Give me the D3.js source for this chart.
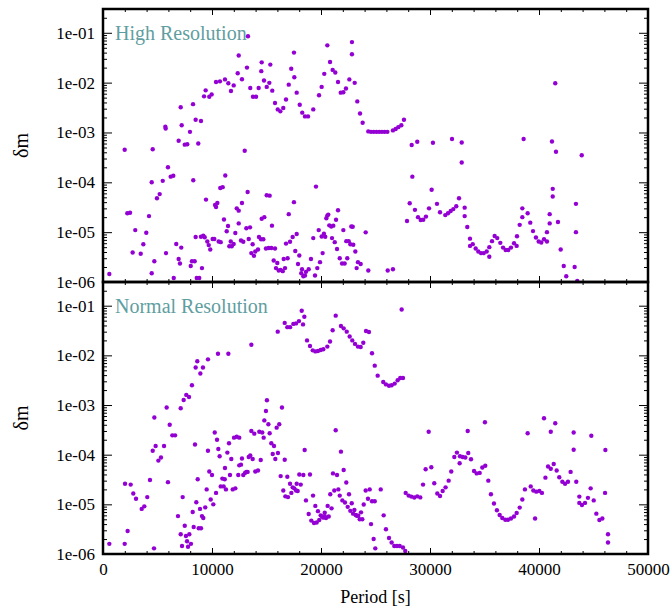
<!DOCTYPE html>
<html>
<head>
<meta charset="utf-8">
<script src="https://cdn.jsdelivr.net/npm/d3@7"></script>
<style>
  body { margin: 0; background: #fff; }
  svg text { font-family: "Liberation Serif", "DejaVu Serif", serif; }
</style>
</head>
<body>
<div class="js-chart"></div>
<script>
'use strict';

// [period (s), delta m]
const highRes = [
  [580,1.45e-6],[1990,4.5e-4],[2230,2.4e-5],[2480,2.45e-5],[2720,3.9e-6],[2960,1.1e-5],[3460,3.7e-6],[3700,5.7e-6],
  [3970,9.7e-6],[4220,2.1e-5],[4470,1.0e-4],[4470,1.5e-6],[4560,4.6e-4],[4710,2.6e-6],[4950,4.8e-5],[5200,5.8e-5],
  [5480,1.07e-4],[5720,1.3e-3],[5750,1.2e-3],[5780,3.8e-6],[5960,2.0e-4],[6210,1.3e-4],[6450,1.35e-4],[6490,1.2e-6],
  [6720,5.8e-6],[6940,6.8e-4],[6940,2.9e-6],[7060,2.35e-6],[7130,3.2e-3],[7220,1.4e-3],[7180,4.9e-6],[7500,5.7e-4],
  [7730,5.8e-4],[7980,1.03e-3],[8050,2.1e-6],[8160,2.6e-6],[8280,1.1e-4],[8260,3.7e-3],[8410,2.6e-6],[8500,1.8e-3],
  [8500,8.0e-6],[8600,1.2e-6],[8830,1.2e-6],[8740,6.0e-4],[8990,1.7e-3],[8990,8.1e-6],[9080,1.9e-6],[9200,8.5e-6],
  [9330,7.9e-6],[9420,7.0e-3],[9270,5.3e-3],[9450,4.5e-5],[9570,6.5e-6],[9700,5.5e-6],[9750,5.2e-3],[9840,4.5e-6],
  [9970,5.8e-3],[10060,7.3e-6],[10210,7.3e-6],[10280,3.5e-5],[10370,3.2e-5],[10370,1.03e-2],[10490,3.85e-5],[10610,6.5e-6],
  [10730,1.06e-2],[10760,7.7e-5],[10800,6.3e-6],[10980,8.0e-5],[11100,1.8e-5],[11190,1.16e-2],[11220,1.37e-4],[11350,1.04e-5],
  [11470,1.33e-5],[11500,9.7e-3],[11590,5.2e-6],[11720,6.5e-6],[11740,6.8e-3],[11810,5.2e-6],[11990,8.8e-3],[11990,5.8e-6],
  [12140,9.6e-6],[12270,3.0e-5],[12360,1.54e-2],[12450,3.5e-2],[12450,2.7e-5],[12450,1.5e-5],
  [13300,8.5e-2],[12750,1.17e-2],[13210,2.0e-2],[13510,7.8e-3],[13760,5.2e-3],[14040,5.2e-3],[14280,7.8e-3],[14560,2.55e-2],
  [14520,1.7e-2],[14770,1.1e-2],[15020,8.2e-3],[15260,9.9e-3],[15350,2.3e-2],[15530,6.9e-3],[15780,3.9e-3],[16030,2.9e-3],
  [16270,2.65e-3],[16540,3.1e-3],[16790,4.6e-3],[17040,9.1e-3],[17270,1.9e-2],[17520,4.0e-2],[17550,1.28e-2],[17770,6.3e-3],
  [18050,3.6e-3],[18280,2.5e-3],[18530,2.1e-3],[18810,2.1e-3],[19290,2.9e-3],[19820,5.6e-3],[20060,8.2e-3],[20300,1.5e-2],
  [20580,5.6e-2],[20830,2.6e-2],[21070,1.8e-2],[21310,1.6e-2],[21560,1.03e-2],[21810,6.3e-3],[22050,6.4e-3],[22290,7.6e-3],
  [22600,1.16e-2],[22840,6.5e-2],[22840,3.7e-2],[23090,9.9e-3],[23330,4.2e-3],[23580,2.4e-3],[23820,1.57e-3],[13000,4.3e-4],
  [19540,8.2e-5],
  [24340,1.05e-3],[24590,1.03e-3],[24840,1.03e-3],[25090,1.03e-3],[25340,1.03e-3],[25590,1.03e-3],[25840,1.03e-3],[26090,1.03e-3],
  [26600,1.1e-3],[26850,1.17e-3],[27090,1.28e-3],[27370,1.4e-3],[27610,1.8e-3],
  [13270,6.4e-5],[12750,3.85e-5],[13150,1.2e-5],[13490,1.25e-5],[13370,7.3e-6],[12660,6.8e-6],[12870,6.4e-6],[13730,5.7e-6],
  [13610,3.8e-6],[13850,3.35e-6],[13970,4.1e-6],[14220,4.5e-6],[14310,8.0e-6],[14500,7.2e-6],[14710,7.2e-6],[14560,1.86e-5],
  [14800,2.0e-5],[15020,5.5e-5],[15290,5.4e-5],[15500,1.35e-5],[14950,4.7e-6],[15200,4.8e-6],[15440,4.8e-6],[15780,4.7e-6],
  [15660,2.7e-6],[15990,2.4e-6],[15870,1.9e-6],[16120,1.7e-6],[16300,1.75e-6],[16490,1.65e-6],[16700,1.9e-6],[16580,2.9e-6],
  [16940,3.0e-6],[16790,5.9e-6],[17160,6.4e-6],[17400,8.0e-6],[17520,4.0e-5],[17040,2.3e-5],[17770,9.2e-6],[17640,4.2e-6],
  [18010,3.4e-6],[17890,2.3e-6],[18260,1.8e-6],[18190,1.5e-6],[18380,1.3e-6],[18530,1.35e-6],[18620,1.6e-6],[18870,1.8e-6],
  [19080,2.9e-6],[19290,7.6e-6],[19450,1.35e-6],[19660,1.9e-6],[19790,1.1e-5],[19910,2.5e-6],[20060,8.2e-6],[20150,3.8e-6],
  [20270,9.3e-6],[20390,8.1e-6],[20490,1.9e-5],[20580,2.15e-5],[20670,2.25e-5],[20760,1.37e-5],[20940,1.3e-5],[21130,1.35e-5],
  [21010,7.6e-6],[21260,6.3e-6],[21380,1.77e-5],[21560,2.75e-5],[21470,4.6e-6],[21720,3.0e-6],[21930,2.35e-6],[22170,2.35e-6],
  [22050,1.1e-5],[22320,6.6e-6],[22540,6.6e-6],[22410,3.0e-6],[22690,5.7e-6],[22960,5.6e-6],[22780,1.3e-5],[22910,1.28e-5],
  [23150,4.1e-6],[23270,1.9e-6],[23390,2.5e-6],[23640,2.3e-6],[24100,9.9e-6],[24340,1.7e-6],
  [26120,1.7e-6],[26600,1.8e-6],[27890,1.67e-5],[28140,3.8e-5],[28320,5.6e-4],[28380,1.3e-4],[28620,2.8e-5],[28830,6.5e-4],
  [28900,2.0e-5],[29150,1.75e-5],[29380,1.77e-5],[29630,2.05e-5],[29910,3.0e-5],[30150,7.1e-5],[30270,6.2e-4],[30640,3.7e-5],
  [30920,2.5e-5],[31400,2.2e-5],[31650,2.4e-5],[31900,2.65e-5],[32140,2.9e-5],[32410,3.3e-5],[32020,7.4e-4],[32660,4.8e-5],
  [32910,6.3e-4],[32910,2.5e-4],[33180,3.1e-5],[33180,2.1e-5],[33420,1.27e-5],[33670,7.4e-6],[33670,5.3e-6],[33920,5.75e-6],
  [34190,4.7e-6],[34430,4.1e-6],[34680,3.8e-6],[34930,3.8e-6],[35200,4.1e-6],[35440,3.2e-6],[35440,5.0e-6],[35690,6.6e-6],
  [35930,8.4e-6],[36170,7.6e-6],[36450,6.1e-6],[36700,4.9e-6],[36940,4.4e-6],[37180,4.4e-6],[37430,4.9e-6],[37710,6.0e-6],
  [37950,5.3e-6],[37980,8.3e-6],[38230,1.4e-5],[38470,2.0e-5],[38470,3.0e-5],[38590,7.4e-4],[38960,2.4e-5],[39200,1.55e-5],
  [39450,1.05e-5],[39720,7.8e-6],[39970,6.5e-6],[40210,6.2e-6],[40460,7.2e-6],[40730,6.5e-6],[40730,1.0e-5],[40980,1.5e-5],
  [40980,2.3e-5],[41190,6.6e-4],[41260,7.4e-5],[41260,5.2e-5],[41490,9.7e-3],[41560,4.1e-4],[41740,1.6e-5],[41990,4.5e-6],
  [42270,2.1e-6],[42500,1.3e-6],[43270,2.0e-6],[43390,3.7e-5],[43390,1.0e-5],[43510,1.05e-6],[43920,3.5e-4]
];

const normalRes = [
  [580,1.6e-6],[1990,1.6e-6],[2020,2.6e-5],[2260,2.9e-6],[2540,2.5e-5],[2780,1.65e-5],[3030,1.3e-5],[3550,8.1e-6],
  [3790,9.1e-6],[4060,1.4e-5],[4310,3.1e-5],[4680,1.3e-6],[4560,1.2e-4],[4710,5.6e-4],[4830,1.5e-4],[5080,7.6e-5],
  [5320,8.8e-5],[5600,1.5e-4],[5840,8.9e-4],[5960,2.8e-5],[6120,4.0e-4],[6360,2.45e-4],[6610,2.45e-4],[6880,5.8e-6],
  [7130,8.6e-4],[7310,1.4e-5],[7130,2.5e-6],[7250,1.45e-6],[7400,1.26e-3],[7500,3.7e-6],[7610,2.3e-6],[7710,1.8e-6],
  [7800,1.4e-6],[7920,2.5e-6],[8070,1.6e-6],[7640,1.6e-3],[7890,1.45e-3],[8160,2.5e-3],[8230,7.0e-6],[8320,3.5e-6],
  [8440,1.6e-4],[8500,5.7e-3],[8560,1.1e-5],[8650,7.6e-3],[8690,3.2e-5],[8780,3.3e-6],[8990,3.3e-6],[8900,8.1e-6],
  [8930,4.3e-3],[9170,5.7e-3],[9080,5.8e-6],[9200,5.3e-6],[9380,8.7e-6],[9510,2.0e-5],[9630,1.2e-4],[9630,8.3e-3],
  [9750,4.6e-5],[9880,1.25e-5],[10000,3.9e-5],[10120,1.0e-5],[10250,2.8e-4],[10370,1.7e-5],[10460,2.0e-4],[10550,1.08e-2],
  [10580,1.3e-4],[10700,9.3e-5],[10800,2.3e-5],[10950,3.3e-5],[11070,2.3e-5],[11170,3.2e-5],[11190,5.4e-5],[11280,2.0e-5],
  [11410,1.1e-4],[11500,1.08e-2],[11560,1.7e-4],[11650,3.9e-5],[11770,8.2e-5],[11900,2.0e-5],[12020,2.2e-4],[12270,2.3e-4],
  [12140,2.1e-5],[12410,3.9e-5],[12500,6.1e-5],
  [13610,1.64e-2],[16030,3.0e-2],[16670,4.5e-2],[16910,3.7e-2],[17160,3.7e-2],[17460,4.3e-2],[17710,4.4e-2],[17980,4.9e-2],
  [18230,7.9e-2],[18350,4.2e-2],[18470,6.0e-2],[18720,2.0e-2],[18990,1.54e-2],[19240,1.26e-2],[19480,1.2e-2],[19720,1.22e-2],
  [19970,1.28e-2],[20210,1.33e-2],[20580,1.5e-2],[20830,1.9e-2],[21070,3.2e-2],[21350,6.3e-2],[21830,3.9e-2],[22080,3.5e-2],
  [22360,3.0e-2],[22630,2.4e-2],[22870,2.0e-2],[23120,1.7e-2],[23390,1.5e-2],[23640,1.47e-2],[23880,1.8e-2],[24130,3.1e-2],
  [24400,2.95e-2],[24680,1.1e-2],[24930,6.2e-3],[25200,3.9e-3],[25710,2.9e-3],[25960,2.6e-3],[26240,2.45e-3],[26480,2.5e-3],
  [26760,2.7e-3],[27030,3.15e-3],[27270,3.5e-3],[27520,3.5e-3],[27400,8.4e-2],
  [12500,2.2e-4],[12660,6.3e-5],[12750,8.4e-5],[12870,3.9e-5],[13030,4.3e-5],[13150,4.5e-5],[13270,4.5e-5],[13370,9.0e-5],
  [13510,9.6e-5],[13610,3.0e-4],[13730,8.2e-5],[13880,2.65e-4],[13970,4.6e-5],[14220,4.8e-5],[14340,2.9e-4],[14610,2.8e-4],
  [14470,7.8e-5],[14740,2.2e-4],[14800,4.9e-4],[14950,7.6e-4],[15040,1.25e-3],[15170,4.1e-4],[15290,2.7e-4],[15440,1.7e-4],
  [15690,1.5e-4],[15570,1.03e-4],[15810,8.2e-5],[15930,3.5e-4],[16050,1.08e-4],[16170,4.1e-4],[16420,8.9e-4],[16300,3.7e-5],
  [16670,7.9e-5],[16540,1.9e-5],[16730,1.45e-5],[16970,1.4e-5],[16910,3.6e-5],[17160,2.6e-5],[17280,1.7e-5],[17400,2.2e-5],
  [17550,2.1e-5],[17710,1.9e-5],[17860,1.85e-5],[17770,2.6e-5],[18010,4.0e-5],[18380,3.9e-5],[18140,2.5e-5],[18500,1.24e-4],
  [18620,1.2e-5],[18870,6.4e-6],[18990,4.0e-5],[19110,4.7e-6],[19270,1.5e-5],[19360,4.2e-6],[19600,4.3e-6],[19480,9.3e-6],
  [19720,7.3e-6],[19840,4.85e-6],[19970,6.0e-6],[20090,5.7e-6],[20210,5.4e-6],[20340,5.8e-6],[20460,5.3e-6],[20340,6.8e-6],
  [20610,9.3e-6],[20710,5.7e-6],[20850,1.6e-5],[20970,8.3e-6],[21100,4.2e-5],[21220,1.9e-5],[21350,3.1e-4],[21470,3.9e-5],
  [21590,2.0e-5],[21720,1.5e-5],[21830,1.15e-4],[21960,1.2e-5],[22200,1.09e-5],[22080,4.9e-5],[22320,2.75e-5],[22450,8.9e-6],
  [22570,1.6e-5],[22690,7.4e-6],[22820,1.05e-5],[22940,6.5e-6],[23060,7.7e-6],[23180,6.1e-6],[23300,5.9e-6],[23420,5.9e-6],
  [23550,5.0e-6],[23790,5.0e-6],[23670,6.9e-6],[23920,9.9e-6],[24100,1.9e-5],[24310,1.3e-5],[24470,2.0e-5],[24590,4.0e-6],
  [24680,1.15e-5],[24930,1.15e-5],[24830,2.0e-6],[24980,1.3e-6],
  [25480,2.0e-5],[25750,6.0e-6],[25960,3.15e-6],[26240,2.1e-6],[26480,1.7e-6],[26720,1.45e-6],[26970,1.45e-6],[27220,1.45e-6],
  [27520,1.35e-6],[27730,1.15e-6],[27770,1.7e-5],[28040,1.5e-5],[28290,1.43e-5],[28560,1.37e-5],[28830,1.45e-5],[29110,1.38e-5],
  [29360,2.5e-5],[29600,5.1e-5],[29880,2.9e-4],[30120,5.6e-5],[30390,2.65e-5],[30670,1.65e-5],[30920,1.47e-5],[31160,1.85e-5],
  [31430,2.2e-5],[31710,3.0e-5],[31950,4.6e-5],[32230,9.0e-5],[32470,1.1e-4],[32720,6.7e-5],[32750,9.3e-5],[33000,9.0e-5],
  [33240,8.8e-5],[33460,3.0e-4],[33510,1.08e-4],[33760,8.1e-5],[34040,4.7e-5],[34280,4.2e-5],[34560,4.3e-5],[34800,5.5e-5],
  [35070,6.0e-5],[35040,4.5e-4],[35350,3.0e-5],[35590,1.6e-5],[35870,1.04e-5],[36140,7.6e-6],[36390,6.1e-6],[36630,5.3e-6],
  [36910,4.9e-6],[37150,4.9e-6],[37430,5.2e-6],
  [37710,5.7e-6],[37950,6.7e-6],[38230,8.6e-6],[38470,1.25e-5],[38710,2.0e-5],[38960,2.7e-4],[39240,2.3e-5],[39480,1.9e-5],
  [39640,5.2e-6],[39750,1.8e-5],[40030,1.85e-5],[40270,1.7e-5],[40460,5.4e-4],[40590,3.45e-5],[40830,5.8e-5],[41080,5.2e-5],
  [41080,2.9e-4],[41350,6.5e-5],[41490,4.3e-4],[41620,4.8e-5],[41860,3.5e-5],[42140,2.85e-5],[42390,2.6e-5],[42660,2.85e-5],
  [42900,4.5e-5],[43180,2.8e-4],[43180,1.26e-4],[43420,2.85e-5],[43700,1.43e-5],[43700,1.07e-5],[43940,9.7e-6],[44220,1.07e-5],
  [44490,1.35e-5],[44740,2.1e-5],[44800,2.4e-4],[45020,1.2e-5],[45260,6.5e-6],[45540,4.85e-6],[45810,5.2e-6],[46060,1.7e-5],
  [46090,1.24e-4],[46330,2.5e-6],[46330,1.7e-6]
];

const panelTitles = ['High Resolution', 'Normal Resolution'];
const xTicks = [0, 10000, 20000, 30000, 40000, 50000];
const yTicks = [1e-6, 1e-5, 1e-4, 1e-3, 1e-2, 1e-1];
const yDomain = [1e-6, 0.3];

const width = 672;
const height = 612;
const left = 103, right = 648;
const panels = [
    { top: 9, bottom: 282, data: highRes, title: panelTitles[0] },
    { top: 282, bottom: 554, data: normalRes, title: panelTitles[1] }
];

const pointColor = '#9400d3';
const titleColor = '#5f9ea0';

const svg = d3.select('.js-chart')
    .append('svg')
    .attr('width', width)
    .attr('height', height);

// scales
const x = d3.scaleLinear().domain([0, 50000]).range([left, right]);

// minor ticks
const xMinor = d3.range(0, 50001, 2000).filter(v => v % 10000 !== 0);
const yMinor = [];
for (let e = -6; e < 0; e++) {
    for (let m = 2; m <= 9; m++) {
        const v = m * Math.pow(10, e);
        if (v <= yDomain[1]) yMinor.push(v);
    }
}

const yFormat = d => '1e-0' + Math.round(-Math.log10(d));

panels.forEach((p, i) => {
    const y = d3.scaleLog().domain(yDomain).range([p.bottom, p.top]);
    const isLast = i === panels.length - 1;

    const g = svg.append('g');

    // clip for points
    const clipId = 'clip' + i;
    svg.append('clipPath').attr('id', clipId)
        .append('rect')
        .attr('x', left).attr('y', p.top)
        .attr('width', right - left).attr('height', p.bottom - p.top);

    // axes (ticks pointing in)
    const addAxis = (axis, transform, cls) => {
        const a = g.append('g')
            .attr('class', cls)
            .attr('transform', transform)
            .call(axis);
        a.select('.domain').remove();
        a.selectAll('line').attr('stroke', '#000').attr('stroke-width', 1);
        a.selectAll('text')
            .attr('fill', '#000')
            .style('font-family', '"Liberation Serif", serif')
            .style('font-size', '17px');
        return a;
    };

    addAxis(d3.axisLeft(y).tickValues(yTicks).tickFormat(yFormat).tickSizeInner(-9).tickSizeOuter(0).tickPadding(8),
        `translate(${left},0)`, 'y-axis');
    addAxis(d3.axisLeft(y).tickValues(yMinor).tickFormat('').tickSizeInner(-4).tickSizeOuter(0),
        `translate(${left},0)`, 'y-minor');
    addAxis(d3.axisRight(y).tickValues(yTicks).tickFormat('').tickSizeInner(-9).tickSizeOuter(0),
        `translate(${right},0)`, 'y-axis-r');
    addAxis(d3.axisRight(y).tickValues(yMinor).tickFormat('').tickSizeInner(-4).tickSizeOuter(0),
        `translate(${right},0)`, 'y-minor-r');

    addAxis(d3.axisBottom(x).tickValues(xTicks).tickFormat(isLast ? d3.format('d') : '').tickSizeInner(-6).tickSizeOuter(0).tickPadding(9),
        `translate(0,${p.bottom})`, 'x-axis');
    addAxis(d3.axisBottom(x).tickValues(xMinor).tickFormat('').tickSizeInner(-3).tickSizeOuter(0),
        `translate(0,${p.bottom})`, 'x-minor');
    addAxis(d3.axisTop(x).tickValues(xTicks).tickFormat('').tickSizeInner(-6).tickSizeOuter(0),
        `translate(0,${p.top})`, 'x-axis-t');
    addAxis(d3.axisTop(x).tickValues(xMinor).tickFormat('').tickSizeInner(-3).tickSizeOuter(0),
        `translate(0,${p.top})`, 'x-minor-t');

    // points
    g.append('g')
        .attr('clip-path', `url(#${clipId})`)
        .selectAll('circle')
        .data(p.data)
        .enter()
        .append('circle')
        .attr('cx', d => x(d[0]))
        .attr('cy', d => y(d[1]))
        .attr('r', 2.2)
        .attr('fill', pointColor);

    // panel title
    g.append('text')
        .attr('x', left + 12)
        .attr('y', p.top + 31)
        .attr('fill', titleColor)
        .style('font-size', '20px')
        .text(p.title);

    // y label
    g.append('text')
        .attr('transform', `translate(28, ${(p.top + p.bottom) / 2}) rotate(-90)`)
        .attr('text-anchor', 'middle')
        .style('font-size', '20px')
        .text('δm');

    // frame
    g.append('rect')
        .attr('x', left).attr('y', p.top)
        .attr('width', right - left).attr('height', p.bottom - p.top)
        .attr('fill', 'none')
        .attr('stroke', '#000')
        .attr('stroke-width', 2.5);
});

// x label
svg.append('text')
    .attr('x', (left + right) / 2)
    .attr('y', 603)
    .attr('text-anchor', 'middle')
    .style('font-size', '18px')
    .text('Period [s]');
</script>
</body>
</html>
